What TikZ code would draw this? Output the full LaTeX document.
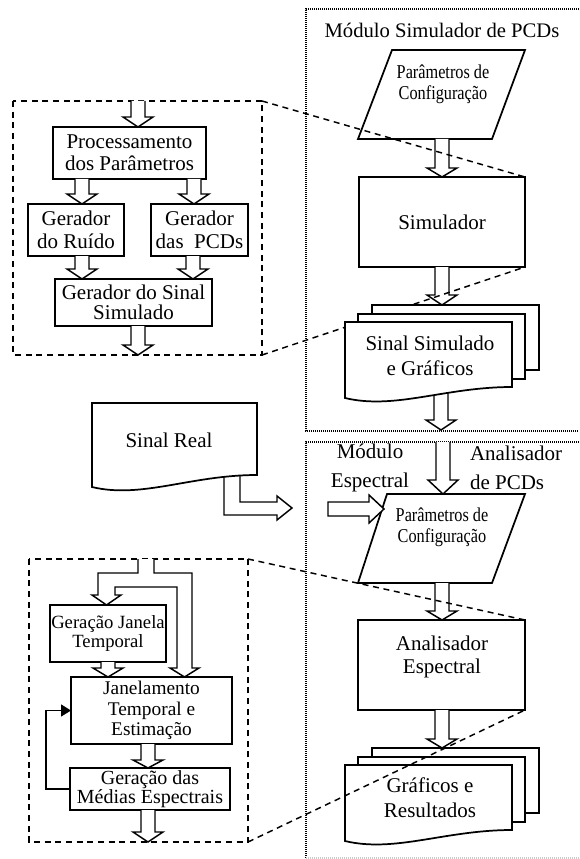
\documentclass[tikz,border=0pt]{standalone}
\usepackage{fontspec}
\setmainfont{Liberation Serif}
\newfontfamily\condfont{Liberation Serif}[FakeStretch=0.83]
\usetikzlibrary{calc,arrows.meta}
\tikzset{
 fnt/.style 2 args={font=\fontsize{#1}{#2}\selectfont},
 box/.style={draw, line width=1.3pt, fill=white, inner sep=0pt, outer sep=0pt, align=center},
 shp/.style={draw, line width=1.3pt, fill=white, line join=miter},
 harrow/.style={draw, line width=1.1pt, fill=white, line join=miter},
 txt/.style={inner sep=0pt, outer sep=0pt, align=center},
 cond/.style={font=\condfont\fontsize{14.7pt}{15.5pt}\selectfont},
 zoomline/.style={line width=1.1pt, dash pattern=on 4.5pt off 3.5pt},
 modline/.style={line width=0.9pt, dash pattern=on 0.75pt off 0.75pt},
 fb/.style={line width=1.1pt, -{Triangle[length=7.5pt,width=9pt]}},
}
% hollow downward arrow: x (px), from, to, head length (px)
\newcommand\hdown[4]{%
 \draw[harrow] let \p1=(#2), \p2=(#3) in
  ({#1*0.75pt-5.25pt},\y1) -- ({#1*0.75pt-5.25pt},{\y2+#4*0.75pt}) --
  ({#1*0.75pt-11.25pt},{\y2+#4*0.75pt}) -- ({#1*0.75pt},\y2) --
  ({#1*0.75pt+11.25pt},{\y2+#4*0.75pt}) -- ({#1*0.75pt+5.25pt},{\y2+#4*0.75pt}) --
  ({#1*0.75pt+5.25pt},\y1);}
\newcommand\docstack[2]{%
 \draw[shp] (#1+27,#2-17) rectangle (#1+194,#2+48);
 \draw[shp] (#1+13,#2-8) rectangle (#1+180,#2+57);
 \draw[shp] (#1,#2) -- (#1+167,#2) -- (#1+167,#2+65) .. controls (#1+100,#2+65) and (#1+50,#2+88) .. (#1,#2+76) -- cycle;}
\begin{document}
\begin{tikzpicture}[x=0.75pt,y=-0.75pt, fnt={15.75pt}{17pt}]
\useasboundingbox (0,0) rectangle (579,859);
% module frames
\draw[modline] (579,9) -- (306,9) -- (306,431) -- (579,431);
\draw[modline] (579,442) -- (306,442) -- (306,858);
\draw[modline, black!20] (306,858) -- (579,858);
% zoom frames
\draw[zoomline] (13,101) rectangle (262,355);
\draw[zoomline] (29,559) rectangle (248,842);
\coordinate (z1ne) at (262,101); \coordinate (z1se) at (262,355);
\coordinate (z2ne) at (248,559); \coordinate (z2se) at (248,842);
\coordinate (z1in) at (138,101); \coordinate (z1out) at (138,355);
\coordinate (z2out) at (148,842);
% upper-left detail
\node[box, minimum width=114.75pt, minimum height=39pt, fnt={15.75pt}{16.5pt}] (proc) at (129.5,153) {Processamento\\dos Parâmetros};
\node[box, minimum width=72pt, minimum height=39pt, fnt={15.75pt}{17.25pt}] (ruido) at (76,230) {Gerador\\do Ruído};
\node[box, minimum width=72.75pt, minimum height=39pt, fnt={15.75pt}{17.25pt}] (pcds) at (199.5,230) {Gerador\\das\ \ PCDs};
\node[box, minimum width=117.75pt, minimum height=35.25pt, fnt={15.75pt}{15pt}] (sinal) at (133.5,302.5) {Gerador do Sinal\\Simulado};
% right upper module
\node[txt, fnt={15.5pt}{17pt}] (title) at (442,30) {Módulo Simulador de PCDs};
\draw[shp] (392,50) -- (525,50) -- (492,139) -- (358,139) -- cycle;
\coordinate (p1b) at (442,139);
\node[box, minimum width=124.5pt, minimum height=67.5pt] (sim) at (442,222) {Simulador};
\coordinate (d1top) at (442,305); \coordinate (d1bot) at (441,385); \coordinate (m1bot) at (441,430);
% right lower module
\coordinate (m2top) at (443,442);
\draw[shp] (387,494) -- (525,494) -- (492,583) -- (358,583) -- cycle;
\coordinate (p2t) at (443,494); \coordinate (p2b) at (442,583);
\node[box, minimum width=125.25pt, minimum height=67.5pt] (ana) at (441.5,665) {};
\coordinate (d2top) at (442,748);
% lower-left detail
\node[box, minimum width=87pt, minimum height=42.75pt, fnt={14pt}{14pt}] (janela) at (108,633.5) {Geração Janela\\Temporal};
\node[box, minimum width=120.75pt, minimum height=50.25pt, fnt={14.5pt}{15.4pt}] (jan) at (151.5,710.5) {Janelamento\\Temporal e\\Estimação};
\node[box, minimum width=120pt, minimum height=31.5pt, fnt={15pt}{14pt}] (medias) at (150,789) {Geração das\\Médias Espectrais};
% hollow arrows
\hdown{138}{z1in}{proc.north}{10}
\hdown{82}{proc.south}{ruido.north}{10}
\hdown{194}{proc.south}{pcds.north}{10}
\hdown{82}{ruido.south}{sinal.north}{10}
\hdown{193}{pcds.south}{sinal.north}{10}
\hdown{138}{sinal.south}{z1out}{10}
\hdown{442}{p1b}{sim.north}{9}
\hdown{442}{sim.south}{d1top}{10}
\hdown{441}{d1bot}{m1bot}{10}
\hdown{443}{m2top}{p2t}{14}
\hdown{442}{p2b}{ana.north}{9}
\hdown{442}{ana.south}{d2top}{9}
\hdown{108}{janela.south}{jan.north}{9}
\hdown{148}{jan.south}{medias.north}{8}
\hdown{148}{medias.south}{z2out}{10}
% split arrow
\draw[harrow] (138,559) -- (138,573) -- (98,573) -- (98,595) -- (92,595) -- (106.5,605) -- (121,595) -- (115,595) -- (115,587) -- (177,587) -- (177,668) -- (170,668) -- (184.5,677) -- (199,668) -- (192,668) -- (192,573) -- (154,573) -- (154,559);
% feedback
\draw[fb] (medias.west) -- ++(-24,0) |- (jan.west);
% L arrow from Sinal Real and input arrow
\draw[harrow] (224,470) -- (224,515) -- (277,515) -- (277,520) -- (292,508) -- (277,496) -- (277,502) -- (240,502) -- (240,470);
\draw[harrow] (328,502) -- (369,502) -- (369,495) -- (384,509) -- (369,523) -- (369,516) -- (328,516) -- cycle;
% zoom line hidden behind first stack
\draw[zoomline] (z1se) -- (sim.south east);
% documents
\docstack{345}{322}
\draw[shp] (92,403) -- (257,403) -- (257,475) .. controls (191,475) and (141.5,499) .. (92,487) -- cycle;
\docstack{345}{765}
\node[txt, fnt={15.75pt}{18.75pt}] (d1txt) at (430,355.5) {Sinal Simulado\\e Gráficos};
\node[txt] (real) at (169,440) {Sinal Real};
\node[txt, fnt={15.75pt}{18.75pt}] (d2txt) at (430,797.5) {Gráficos e\\Resultados};
% remaining zoom lines
\draw[zoomline] (z1ne) -- (sim.north east);
\draw[zoomline] (z2ne) -- (ana.north east);
\draw[zoomline] (z2se) -- (ana.south east);
% texts
\node[txt, cond] (par1txt) at (443,84.5) {Parâmetros de\\Configuração};
\node[txt, cond] (par2txt) at (442,527) {Parâmetros de\\Configuração};
\node[txt, fnt={15.75pt}{21.75pt}] (modlbl) at (370,467.5) {Módulo\\Espectral};
\node[txt, align=left, anchor=west, fnt={15.75pt}{21.75pt}] (analbl) at (470,467.5) {Analisador\\de PCDs};
\node[txt, fnt={15.75pt}{17.25pt}] (anatxt) at (442,656.5) {Analisador\\Espectral};
\end{tikzpicture}
\end{document}
